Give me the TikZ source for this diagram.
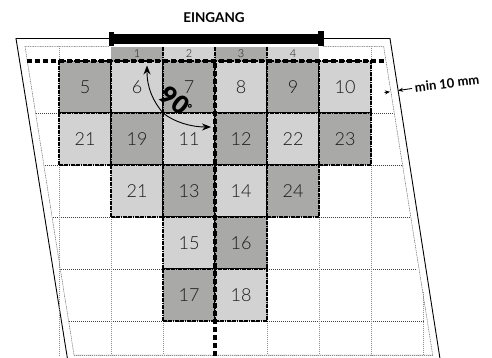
\documentclass[tikz,border=0pt]{standalone}
\usepackage{fontspec}
\setmainfont{Lato}
\newfontfamily\lightfont{Lato Light}
\newfontfamily\blackfont{Lato Black}
\usetikzlibrary{arrows.meta}
\definecolor{tiledark}{HTML}{A9A9A7}
\definecolor{tilelight}{HTML}{D2D2D2}
\tikzset{
  tilebase/.style={draw=black,line width=1.4pt,dash pattern=on 1.8pt off 0.6pt,minimum size=52pt,inner sep=0pt,outer sep=0pt,anchor=north west,text=black!90,font=\lightfont\fontsize{18}{20}\selectfont},
  tiled/.style={tilebase,fill=tiledark},
  tilel/.style={tilebase,fill=tilelight},
  doortile/.style={minimum width=52pt,minimum height=14pt,inner sep=0pt,outer sep=0pt,anchor=north west,text=black!90,font=\lightfont\fontsize{11}{12}\selectfont},
  framel/.style={draw=black,line width=0.9pt},
  innerl/.style={draw=black!60,line width=0.5pt,dash pattern=on 1pt off 0.7pt},
  gridh/.style={draw=black!75,line width=0.6pt,dash pattern=on 1.2pt off 0.8pt},
  gridv/.style={draw=black!45,line width=0.8pt,dash pattern=on 1pt off 1pt},
  thickd/.style={draw=black,line width=3.8pt,dash pattern=on 5pt off 3pt},
  turn/.style={draw=black,line width=0.9pt,-{Stealth[length=9pt,width=7pt]}},
  gap/.style={draw=black,line width=0.9pt,-{Stealth[length=5pt,width=4pt]}},
  heavy/.style={font=\bfseries\fontsize{13.5}{14}\selectfont}
}
\begin{document}
\begin{tikzpicture}[x=1pt,y=-1pt]
\useasboundingbox (0,0) rectangle (492,358);
\begin{scope}
\clip (0,0) rectangle (492,358);
\draw[framel] (109,38.5) -- (16,38.5) -- (68,362);
\draw[framel] (323,38.5) -- (390,38.5) -- (440.5,362);
\draw[innerl] (109,46.5) -- (25,46.5) -- (74,355) -- (432.7,355) -- (383.7,46.5) -- (323,46.5);
\foreach \y/\a/\b in {113/36/394,165/44.5/402.5,217/52.5/409,269/61/417,321/69/424}
  \draw[gridh] (\a,\y) -- (\b,\y);
\foreach \x in {59,371}
  \draw[gridv] (\x,46.5) -- (\x,355);
\draw[gridv] (423,292) -- (423,355);
\foreach \x in {111,163,267,319}
  \draw[gridv] (\x,61) -- (\x,355);
\draw[gridv] (74,355) -- (432.7,355);
\end{scope}
\node[doortile,fill=tiledark]  (d1) at (111,47) {1};
\node[doortile,fill=tilelight] (d2) at (163,47) {2};
\node[doortile,fill=tiledark]  (d3) at (215,47) {3};
\node[doortile,fill=tilelight] (d4) at (267,47) {4};
\foreach \x in {163,215,267}
  \draw[black,line width=1.2pt,dash pattern=on 1.8pt off 0.6pt] (\x,47) -- (\x,61);
\node[tiled] (t5)  at (59,61)  {5};
\node[tilel] (t6)  at (111,61) {6};
\node[tiled] (t7)  at (163,61) {7};
\node[tilel] (t8)  at (215,61) {8};
\node[tiled] (t9)  at (267,61) {9};
\node[tilel] (t10) at (319,61) {10};
\node[tilel] (t21a) at (59,113)  {21};
\node[tiled] (t19) at (111,113) {19};
\node[tilel] (t11) at (163,113) {11};
\node[tiled] (t12) at (215,113) {12};
\node[tilel] (t22) at (267,113) {22};
\node[tiled] (t23) at (319,113) {23};
\node[tilel] (t21b) at (111,165) {21};
\node[tiled] (t13) at (163,165) {13};
\node[tilel] (t14) at (215,165) {14};
\node[tiled] (t24) at (267,165) {24};
\node[tilel] (t15) at (163,217) {15};
\node[tiled] (t16) at (215,217) {16};
\node[tiled] (t17) at (163,269) {17};
\node[tilel] (t18) at (215,269) {18};
\coordinate (hl) at (27,61);
\coordinate (hr) at (386,61);
\coordinate (vt) at (215,63);
\coordinate (vb) at (215,358);
\draw[thickd] (hl) -- (hr);
\draw[thickd] (vt) -- (vb);
\fill[black] (109,34) rectangle (323,44);
\fill[black] (108.5,32) rectangle (114,46.5);
\fill[black] (318,31) rectangle (324,46.5);
\node[heavy] (eingang) at (214,17.5) {EINGANG};
\node[heavy,rotate=7,font=\bfseries\fontsize{13}{14}\selectfont] (minlabel) at (447,83.5) {min 10 mm};
\coordinate (pivot) at (163,113);
\coordinate (tipu) at (147,65.5);
\coordinate (tipr) at (211,127);
\draw[turn] (pivot) .. controls (153,101) and (147,88) .. (tipu);
\draw[turn] (pivot) .. controls (174,122) and (191,127) .. (tipr);
\node[rotate=-38,font=\blackfont\fontsize{25}{25}\selectfont,inner sep=0pt] (deg) at (175,100) {90};
\node[font=\blackfont\fontsize{11}{12}\selectfont,inner sep=0pt] (degsign) at (190,108) {°};
\coordinate (g1) at (384.5,92.5);
\coordinate (g2) at (390,91.8);
\coordinate (g3) at (412,88.5);
\coordinate (g4) at (398,90.5);
\draw[gap] (g1) -- (g2);
\draw[gap] (g3) -- (g4);
\end{tikzpicture}
\end{document}
